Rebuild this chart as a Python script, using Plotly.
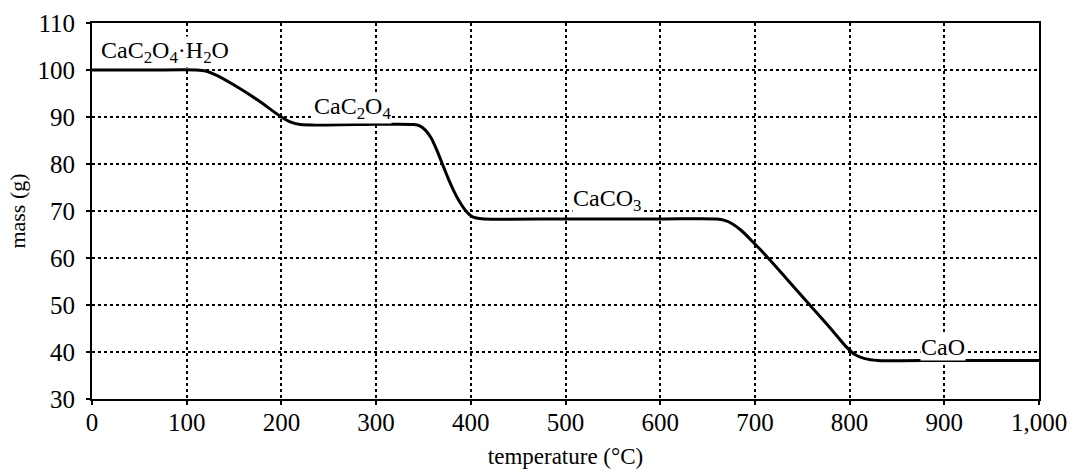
import plotly.graph_objects as go

# Thermogravimetric curve of calcium oxalate monohydrate
temperature = [0, 60, 110, 120, 130, 150, 175, 200, 210, 220, 280, 340, 346, 352, 358,
               364, 370, 376, 382, 388, 394, 400, 406, 414, 500, 600, 660, 668, 676,
               686, 698, 714, 736, 758, 780, 796, 806, 816, 830, 900, 1000]
mass = [100, 100, 100, 99.8, 99.0, 96.8, 93.6, 90.0, 88.9, 88.4, 88.4, 88.4, 88.1, 87.2,
        85.6, 83.0, 80.0, 77.0, 74.3, 72.0, 70.2, 69.0, 68.5, 68.3, 68.3, 68.3, 68.3,
        68.0, 67.3, 65.8, 63.4, 60.0, 55.0, 50.0, 45.0, 41.2, 39.4, 38.6, 38.2, 38.2, 38.2]

label_text = ["CaC<sub>2</sub>O<sub>4</sub>·H<sub>2</sub>O",
              "CaC<sub>2</sub>O<sub>4</sub>",
              "CaCO<sub>3</sub>",
              "CaO"]
label_x = [8, 233, 507, 874]
label_y = [103.9, 92.0, 72.3, 41.1]

x_ticks = list(range(0, 1001, 100))
y_ticks = list(range(30, 111, 10))

FONT = "Liberation Serif"

fig = go.Figure()
fig.add_trace(go.Scatter(x=temperature, y=mass, mode="lines",
                         line=dict(color="black", width=3, shape="spline", smoothing=0.8),
                         hoverinfo="skip", showlegend=False))

for t, x, y in zip(label_text, label_x, label_y):
    fig.add_annotation(x=x, y=y, text=t, showarrow=False, xanchor="left", yanchor="middle",
                       font=dict(family=FONT, size=24, color="black"),
                       bgcolor="white", borderpad=0)

axis_common = dict(showline=True, linecolor="black", linewidth=2, mirror=True,
                   ticks="outside", ticklen=4, tickwidth=2, tickcolor="black",
                   showgrid=True, gridcolor="black", gridwidth=1.6, griddash="dot",
                   zeroline=False, automargin=False,
                   tickfont=dict(family=FONT, size=25, color="black"))

fig.update_xaxes(range=[0, 1000], tickvals=x_ticks, tickformat=",",
                 ticklabelstandoff=-4,
                 title=dict(text="temperature (°C)", font=dict(family=FONT, size=23, color="black"),
                            standoff=13),
                 **axis_common)
fig.update_yaxes(range=[30, 110], tickvals=y_ticks,
                 ticklabelstandoff=6,
                 title=dict(text="mass (g)", font=dict(family=FONT, size=22, color="black"),
                            standoff=6),
                 **axis_common)

fig.update_layout(width=1070, height=471,
                  margin=dict(l=92, r=31, t=23, b=72),
                  paper_bgcolor="white", plot_bgcolor="white",
                  font=dict(family=FONT, color="black"))

fig.write_html("out.html")
